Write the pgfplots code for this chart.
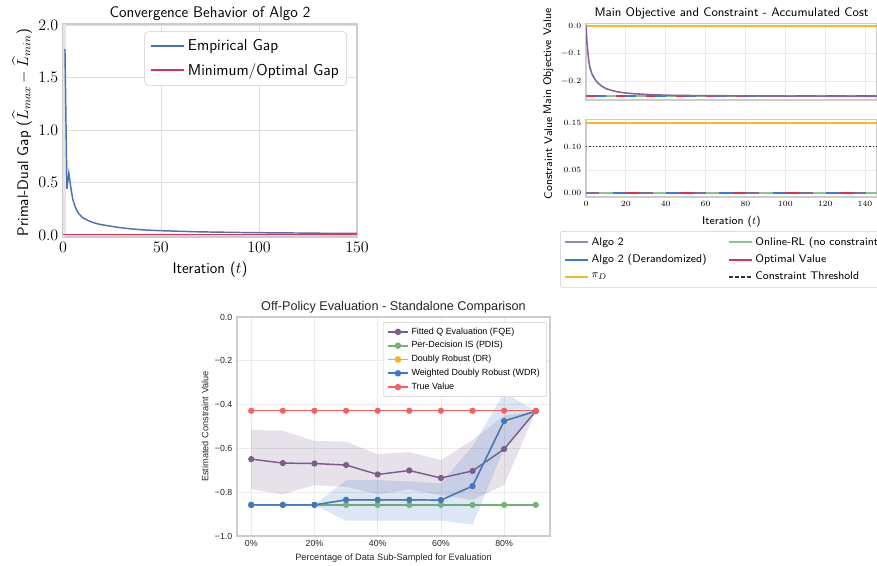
\documentclass[border=0pt]{standalone}
\usepackage{fontspec}
\usepackage{amsmath}
\usepackage{pgfplots}
\pgfplotsset{compat=1.18}
\newfontfamily\arial{Liberation Sans}

\definecolor{framegray}{RGB}{204,204,204}
\definecolor{gridgray}{RGB}{222,222,222}
\definecolor{gridlight}{RGB}{235,235,235}
\definecolor{txt}{RGB}{38,38,38}
\definecolor{gapblue}{RGB}{76,114,176}
\definecolor{crimsonline}{RGB}{217,48,94}
\definecolor{algopurple}{RGB}{134,103,154}
\definecolor{derandblue}{RGB}{58,122,214}
\definecolor{rlgreen}{RGB}{140,196,138}
\definecolor{pidorange}{RGB}{251,181,44}
\definecolor{fqecol}{RGB}{123,92,140}
\definecolor{pdiscol}{RGB}{116,179,116}
\definecolor{drcol}{RGB}{255,173,31}
\definecolor{wdrcol}{RGB}{59,120,198}
\definecolor{truecol}{RGB}{250,95,95}

\pgfplotsset{
  lmpanel/.style={
    scale only axis,
    axis line style={framegray, line width=0.9pt},
    grid=major, major grid style={gridgray, line width=0.6pt},
    major tick length=0pt,
  },
  refline/.style={line width=1.5pt},
}

\begin{document}
\begin{tikzpicture}
\useasboundingbox (0,0) rectangle (657.75pt,423.75pt);

% ---------- Convergence of the primal-dual gap ----------
\begin{axis}[
  lmpanel,
  at={(47.25pt,405.75pt)}, anchor=north west,
  width=220.5pt, height=159.75pt,
  xmin=0, xmax=150, ymin=-0.019, ymax=2.0095,
  xtick={0,50,100,150}, ytick={0,0.5,1,1.5,2},
  yticklabel style={/pgf/number format/.cd, fixed, fixed zerofill, precision=1},
  tick label style={font=\fontsize{11.5}{12}\selectfont},
  title={Convergence Behavior of Algo 2},
  title style={font=\sffamily\fontsize{11.5}{12}\selectfont,
    at={(axis description cs:0.5,1.0094)}, anchor=center},
  xlabel={Iteration ($t$)},
  ylabel={Primal-Dual Gap ($\widehat{L}_{max}-\widehat{L}_{min}$)},
  label style={font=\sffamily\fontsize{11.5}{12}\selectfont},
  xlabel style={at={(axis description cs:0.5,-0.155)}, anchor=center},
  ylabel style={at={(axis description cs:-0.139,0.49)}, anchor=center},
  legend style={at={(axis description cs:0.966,0.965)}, anchor=north east,
    draw=framegray, rounded corners=2.5pt, fill=white,
    font=\sffamily\fontsize{11.8}{13}\selectfont,
    row sep=4pt, inner xsep=4pt, inner ysep=4pt},
  legend cell align=left,
  legend image code/.code={\draw[#1, line width=1.5pt]
    plot coordinates {(0pt,0pt) (12.5pt,0pt) (25pt,0pt)};},
]
\addplot[fill=black!10, draw=none, forget plot]
  coordinates {(0,-0.02) (1.5,-0.02) (1.5,2.01) (0,2.01)} -- cycle;
\addplot[gapblue, line width=1.1pt] coordinates {
  (1,1.77) (2,0.44) (3,0.59) (4,0.45) (5,0.34) (6,0.28) (7,0.235) (8,0.205)
  (9,0.185) (10,0.165) (12,0.145) (14,0.128) (16,0.115) (18,0.105) (20,0.097)
  (23,0.088) (26,0.079) (30,0.068) (35,0.058) (40,0.050) (45,0.045) (50,0.041)
  (60,0.035) (70,0.030) (80,0.027) (90,0.024) (100,0.022) (110,0.020)
  (120,0.019) (130,0.017) (140,0.016) (150,0.015)};
\addlegendentry{Empirical Gap}
\addplot[crimsonline, line width=1.1pt] coordinates {(0,0.005) (150,0.005)};
\addlegendentry{Minimum/Optimal Gap}
\end{axis}

% ---------- Main objective (top) ----------
% The overlapping reference lines share one dash pattern; starting each
% path further left (outside the clipped area) staggers the dashes.
\begin{axis}[
  lmpanel, major grid style={gridlight, line width=0.6pt},
  at={(439.5pt,406.275pt)}, anchor=north west,
  width=218.25pt, height=57.5pt,
  xmin=0, xmax=146, ymin=-0.266, ymax=0.0097,
  xtick={0,20,...,140}, xticklabels={},
  ytick={-0.2,-0.1,0},
  yticklabel style={/pgf/number format/.cd, fixed, fixed zerofill, precision=1},
  tick label style={font=\fontsize{6.5}{7}\selectfont},
  title={Main Objective and Constraint - Accumulated Cost},
  title style={font=\sffamily\fontsize{9.3}{11}\selectfont,
    at={(axis description cs:0.5,1.03)}, anchor=center},
  ylabel={Main Objective Value},
  ylabel style={font=\sffamily\fontsize{8.3}{10}\selectfont,
    at={(axis description cs:-0.13,0.5)}, anchor=center},
]
\addplot[crimsonline, refline, dash pattern=on 7.5pt off 15pt]
  coordinates {(0,-0.253) (146,-0.253)};
\addplot[derandblue, refline, dash pattern=on 7.5pt off 15pt]
  coordinates {(-10.04,-0.253) (146,-0.253)};
\addplot[rlgreen, refline, dash pattern=on 7.5pt off 15pt]
  coordinates {(-5.02,-0.253) (146,-0.253)};
\addplot[pidorange, refline] coordinates {(0,0) (146,0)};
\addplot[algopurple, line width=1.2pt] coordinates {
  (0,0) (0.5,-0.06) (1,-0.10) (1.5,-0.13) (2,-0.15) (3,-0.172) (4,-0.186)
  (5,-0.197) (6,-0.205) (8,-0.217) (10,-0.225) (13,-0.232) (16,-0.237)
  (20,-0.241) (25,-0.244) (30,-0.246) (40,-0.249) (50,-0.250) (70,-0.251)
  (100,-0.252) (146,-0.253)};
\end{axis}

% ---------- Constraint (bottom) ----------
\begin{axis}[
  lmpanel, major grid style={gridlight, line width=0.6pt},
  at={(439.5pt,334.275pt)}, anchor=north west,
  width=218.25pt, height=58.3pt,
  xmin=0, xmax=146, ymin=-0.008, ymax=0.1586,
  xtick={0,20,...,140},
  ytick={0,0.05,0.1,0.15},
  yticklabel style={/pgf/number format/.cd, fixed, fixed zerofill, precision=2},
  tick label style={font=\fontsize{6.5}{7}\selectfont},
  xlabel={Iteration ($t$)},
  ylabel={Constraint Value},
  label style={font=\sffamily\fontsize{8.3}{10}\selectfont},
  xlabel style={at={(axis description cs:0.5,-0.32)}, anchor=center},
  ylabel style={at={(axis description cs:-0.13,0.5)}, anchor=center},
  legend columns=2,
  legend style={at={(axis description cs:-0.0893,-0.4376)}, anchor=north west,
    draw=framegray, rounded corners=2pt, fill=white,
    font=\sffamily\fontsize{8.3}{9.5}\selectfont,
    row sep=1.2pt, inner xsep=3pt, inner ysep=2.5pt,
    /tikz/every even column/.append style={column sep=14pt}},
  legend cell align=left,
  legend image code/.code={\draw[#1, line width=1.5pt]
    plot coordinates {(0pt,0pt) (8.5pt,0pt) (17pt,0pt)};},
]
\addplot[algopurple, refline, dash pattern=on 10pt off 30pt, forget plot]
  coordinates {(0,0) (146,0)};
\addplot[rlgreen, refline, dash pattern=on 10pt off 30pt, forget plot]
  coordinates {(-20.07,0) (146,0)};
\addplot[derandblue, refline, dash pattern=on 10pt off 30pt, forget plot]
  coordinates {(-13.38,0) (146,0)};
\addplot[crimsonline, refline, dash pattern=on 10pt off 30pt, forget plot]
  coordinates {(-6.69,0) (146,0)};
\addplot[pidorange, refline, forget plot] coordinates {(0,0.15) (146,0.15)};
\addplot[black!85, line width=1.2pt, dash pattern=on 1.1pt off 1.4pt, forget plot]
  coordinates {(0,0.10) (146,0.10)};
\addlegendimage{algopurple!80}
\addlegendentry{Algo 2}
\addlegendimage{rlgreen}
\addlegendentry{Online-RL (no constraint)}
\addlegendimage{derandblue}
\addlegendentry{Algo 2 (Derandomized)}
\addlegendimage{crimsonline}
\addlegendentry{Optimal Value}
\addlegendimage{pidorange}
\addlegendentry{$\pi_D$}
\addlegendimage{black!80, dash pattern=on 3pt off 1.5pt}
\addlegendentry{Constraint Threshold}
\end{axis}

% ---------- Off-policy evaluation ----------
\begin{axis}[
  scale only axis,
  at={(177.75pt,186pt)}, anchor=north west,
  width=234.75pt, height=164.25pt,
  xmin=-4.5, xmax=94.5, ymin=-1, ymax=0,
  axis line style={framegray, line width=0.8pt},
  grid=major, major grid style={gridlight, line width=0.6pt},
  major tick length=0pt,
  xtick={0,20,40,60,80}, xticklabels={0\%,20\%,40\%,60\%,80\%},
  ytick={-1,-0.8,-0.6,-0.4,-0.2,0},
  yticklabels={−1.0,−0.8,−0.6,−0.4,−0.2,0.0},
  tick label style={font=\arial\fontsize{6.6}{8}\selectfont, text=txt},
  title={Off-Policy Evaluation - Standalone Comparison},
  title style={font=\arial\fontsize{9.5}{11}\selectfont, text=txt,
    at={(axis description cs:0.5,1.009)}, anchor=center},
  xlabel={Percentage of Data Sub-Sampled for Evaluation},
  ylabel={Estimated Constraint Value},
  label style={font=\arial\fontsize{6.9}{8}\selectfont, text=txt},
  xlabel style={at={(axis description cs:0.5,-0.10)}, anchor=center},
  ylabel style={at={(axis description cs:-0.102,0.5)}, anchor=center},
  legend style={at={(axis description cs:0.99,0.977)}, anchor=north east,
    draw=framegray, rounded corners=1.5pt, fill=white,
    font=\arial\fontsize{6.7}{8}\selectfont,
    row sep=0pt, inner xsep=3pt, inner ysep=2pt},
  legend cell align=left,
  legend image code/.code={\draw[mark repeat=2,mark phase=2,#1, line width=1.3pt]
    plot coordinates {(0pt,0pt) (7.5pt,0pt) (15pt,0pt)};},
  every axis plot/.append style={line width=1.1pt, mark=*, mark size=1.75pt},
]
% FQE spread
\addplot[fill=fqecol, fill opacity=0.18, draw=none, mark=none, forget plot] coordinates {
  (0,-0.516) (10,-0.519) (20,-0.566) (30,-0.569) (40,-0.626) (50,-0.617)
  (60,-0.653) (70,-0.562) (80,-0.45) (90,-0.43)
  (90,-0.43) (80,-0.767) (70,-0.835) (60,-0.814) (50,-0.788) (40,-0.809)
  (30,-0.776) (20,-0.768) (10,-0.809) (0,-0.786)} -- cycle;
\addplot[fqecol, mark options={fill=fqecol, draw=fqecol}] coordinates {
  (0,-0.649) (10,-0.667) (20,-0.669) (30,-0.676) (40,-0.719) (50,-0.701)
  (60,-0.735) (70,-0.703) (80,-0.603) (90,-0.43)};
\addlegendentry{Fitted Q Evaluation (FQE)}
\addplot[pdiscol, mark options={fill=pdiscol, draw=pdiscol}] coordinates {
  (0,-0.858) (10,-0.858) (20,-0.858) (30,-0.858) (40,-0.858) (50,-0.858)
  (60,-0.858) (70,-0.858) (80,-0.858) (90,-0.858)};
\addlegendentry{Per-Decision IS (PDIS)}
\addplot[drcol, mark options={fill=drcol, draw=drcol}] coordinates {
  (0,-0.858) (10,-0.858) (20,-0.858) (30,-0.835) (40,-0.835) (50,-0.835)
  (60,-0.836) (70,-0.772) (80,-0.475) (90,-0.43)};
\addlegendentry{Doubly Robust (DR)}
% WDR spread
\addplot[fill=wdrcol, fill opacity=0.18, draw=none, mark=none, forget plot] coordinates {
  (0,-0.858) (10,-0.858) (20,-0.858) (30,-0.745) (40,-0.745) (50,-0.75)
  (60,-0.76) (70,-0.59) (80,-0.345) (90,-0.43)
  (90,-0.43) (80,-0.60) (70,-0.948) (60,-0.93) (50,-0.93) (40,-0.93)
  (30,-0.93) (20,-0.858) (10,-0.858) (0,-0.858)} -- cycle;
\addplot[wdrcol, mark options={fill=wdrcol, draw=wdrcol}] coordinates {
  (0,-0.858) (10,-0.858) (20,-0.858) (30,-0.835) (40,-0.835) (50,-0.835)
  (60,-0.836) (70,-0.772) (80,-0.475) (90,-0.43)};
\addlegendentry{Weighted Doubly Robust (WDR)}
\addplot[truecol, mark options={fill=truecol, draw=truecol}] coordinates {
  (0,-0.428) (10,-0.428) (20,-0.428) (30,-0.428) (40,-0.428) (50,-0.428)
  (60,-0.428) (70,-0.428) (80,-0.428) (90,-0.428)};
\addlegendentry{True Value}
\end{axis}
\end{tikzpicture}
\end{document}
